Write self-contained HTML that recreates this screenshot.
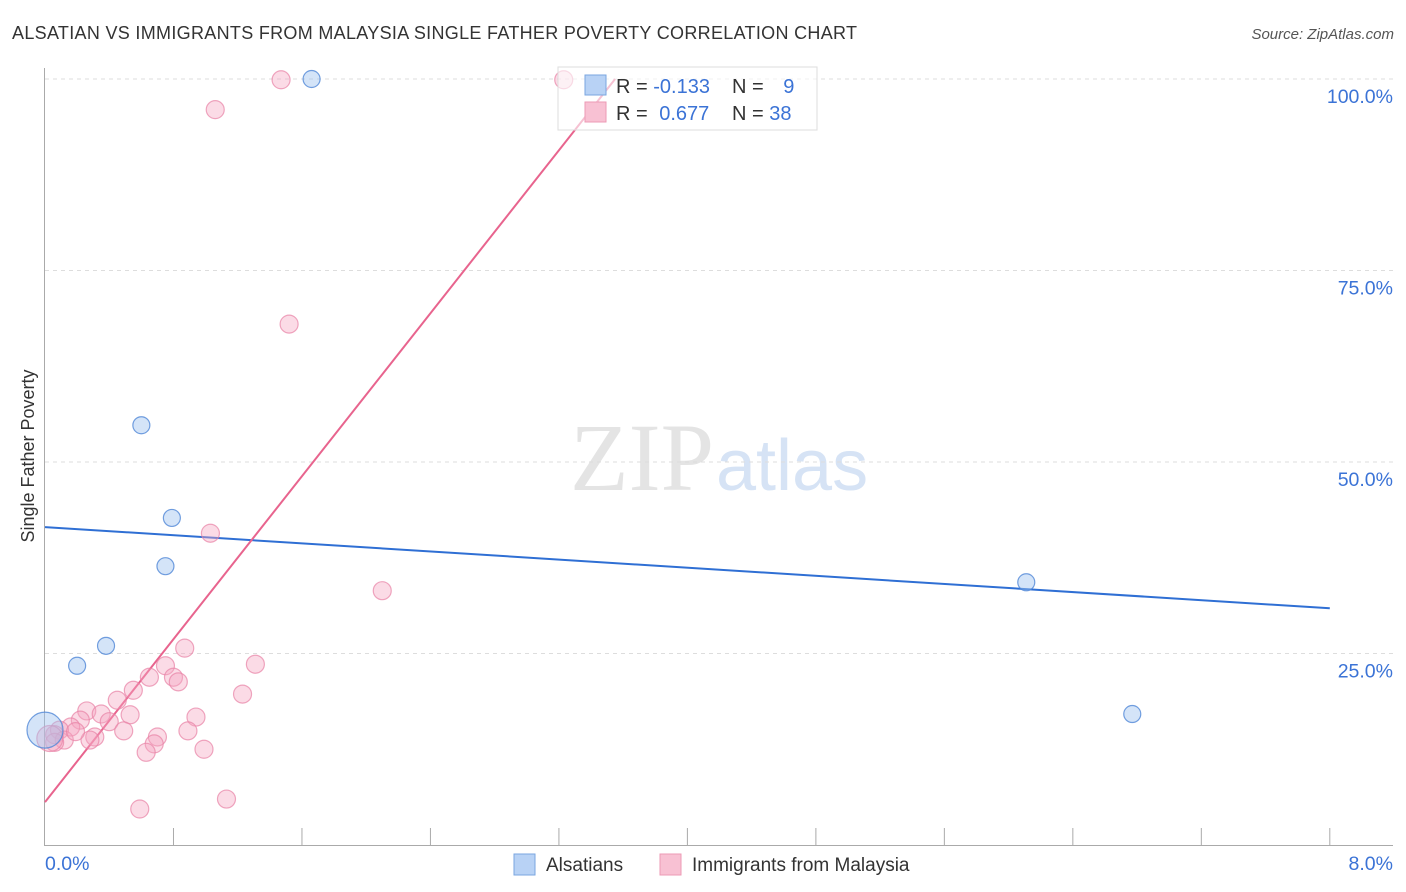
<!DOCTYPE html>
<html><head><meta charset="utf-8"><style>
body{margin:0;background:#fff;font-family:"Liberation Sans",sans-serif}
</style></head><body>
<svg width="1406" height="892" style="display:block">
<text x="12" y="39" font-size="18" fill="#333" textLength="845">ALSATIAN VS IMMIGRANTS FROM MALAYSIA SINGLE FATHER POVERTY CORRELATION CHART</text>
<text x="1394" y="39" font-size="15" fill="#555" font-style="italic" text-anchor="end">Source: ZipAtlas.com</text>
<text x="34" y="456" font-size="18" fill="#333" text-anchor="middle" transform="rotate(-90 34 456)">Single Father Poverty</text>
<text x="714" y="490" font-size="96" fill="#e4e4e4" text-anchor="end" font-family="Liberation Serif,serif">ZIP</text>
<text x="716" y="490" font-size="72" fill="#d6e3f5">atlas</text>
<g id="grid"></g><g id="axes"></g><g id="lines"></g><g id="pts"></g>
<g>
<rect x="558" y="67" width="259" height="63" fill="#fff" fill-opacity="0.6" stroke="#ddd"/>
<rect x="585" y="75" width="21" height="20" fill="#b8d2f5" stroke="#7aa6e0"/>
<rect x="585" y="102" width="21" height="20" fill="#f8c1d3" stroke="#ec9ab5"/>
<text x="616" y="93" font-size="20" fill="#333">R = <tspan fill="#3b73d6">-0.133</tspan></text>
<text x="732" y="93" font-size="20" fill="#333">N = <tspan fill="#3b73d6" dx="14">9</tspan></text>
<text x="616" y="120" font-size="20" fill="#333">R = <tspan fill="#3b73d6" dx="6">0.677</tspan></text>
<text x="732" y="120" font-size="20" fill="#333">N = <tspan fill="#3b73d6">38</tspan></text>
</g>
<g>
<rect x="514" y="854" width="21" height="21" fill="#b8d2f5" stroke="#7aa6e0"/>
<text x="546" y="871" font-size="19" fill="#333">Alsatians</text>
<rect x="660" y="854" width="21" height="21" fill="#f8c1d3" stroke="#ec9ab5"/>
<text x="692" y="871" font-size="19" fill="#333">Immigrants from Malaysia</text>
</g>
<text x="45" y="870" font-size="19.5" fill="#3b73d6">0.0%</text>
<text x="1393" y="870" font-size="19.5" fill="#3b73d6" text-anchor="end">8.0%</text>
</svg>
<script>
const blueX=[1.66,0.60,0.79,0.75,0.38,0.20,6.11,6.77,0.0];
const blueY=[100,54.8,42.7,36.4,26.0,23.4,34.3,17.1,15.0];
const pinkX=[1.47,3.23,1.06,1.52,1.03,2.10,0.87,1.31,0.75,0.80,0.83,0.65,0.55,1.23,0.45,0.26,0.53,0.35,0.94,0.22,0.40,0.16,0.09,0.06,0.31,0.49,0.70,0.89,0.68,0.63,0.99,0.28,0.12,0.06,0.59,1.13,0.03,0.19];
const pinkY=[99.9,99.9,96,68,40.7,33.2,25.7,23.6,23.4,21.9,21.3,21.9,20.2,19.7,18.9,17.5,17.0,17.1,16.7,16.3,16.1,15.4,15.0,14.4,14.1,14.9,14.1,14.9,13.2,12.1,12.5,13.7,13.7,13.4,4.7,6.0,13.9,14.8];
const yTicks=[25,50,75,100];
const xTicks=[0.8,1.6,2.4,3.2,4.0,4.8,5.6,6.4,7.2,8.0];
const blueFit=[41.5,30.9];
const pinkFit=[5.6,100];
const pinkFitEnd=3.55;
const sx=v=>45+v*160.6, sy=v=>845-v*7.66;
const NS="http://www.w3.org/2000/svg";
function mk(p,t,a){const e=document.createElementNS(NS,t);for(const k in a)e.setAttribute(k,a[k]);document.getElementById(p).appendChild(e);return e;}
yTicks.forEach(t=>{
 const l=mk('grid','line',{x1:45,x2:1393,y1:sy(t),y2:sy(t),stroke:'#ddd','stroke-dasharray':'4,4'});
 
 
 const tx=mk('grid','text',{x:1393,y:sy(t)+24,'font-size':19.5,fill:'#3b73d6','text-anchor':'end'});
 tx.textContent=t.toFixed(1)+'%';
 
 
});
const ax=mk('axes','path',{d:'M44.5 68V845.5H1393',stroke:'#aaa',fill:'none'});


xTicks.forEach(t=>{
 const l=mk('axes','line',{x1:sx(t),x2:sx(t),y1:828,y2:845,stroke:'#aaa'});
 
 
});
const bl=mk('lines','line',{x1:sx(0),y1:sy(blueFit[0]),x2:sx(8),y2:sy(blueFit[1]),stroke:'#2f6fd4','stroke-width':2});


const pl=mk('lines','line',{x1:sx(0),y1:sy(pinkFit[0]),x2:sx(pinkFitEnd),y2:sy(pinkFit[1]),stroke:'#e8648e','stroke-width':2});


pinkX.forEach((x,i)=>{
 const c=mk('pts','circle',{cx:sx(x),cy:sy(pinkY[i]),r:i==36?13:9,fill:'rgba(244,166,192,0.4)',stroke:'rgba(232,130,165,0.7)','stroke-width':1.2});
 
 
});
blueX.forEach((x,i)=>{
 const c=mk('pts','circle',{cx:sx(x),cy:sy(blueY[i]),r:i==8?18:8.5,fill:'rgba(160,195,240,0.45)',stroke:'rgba(80,135,215,0.8)','stroke-width':1.2});
 
 
});
</script>
</body></html>
